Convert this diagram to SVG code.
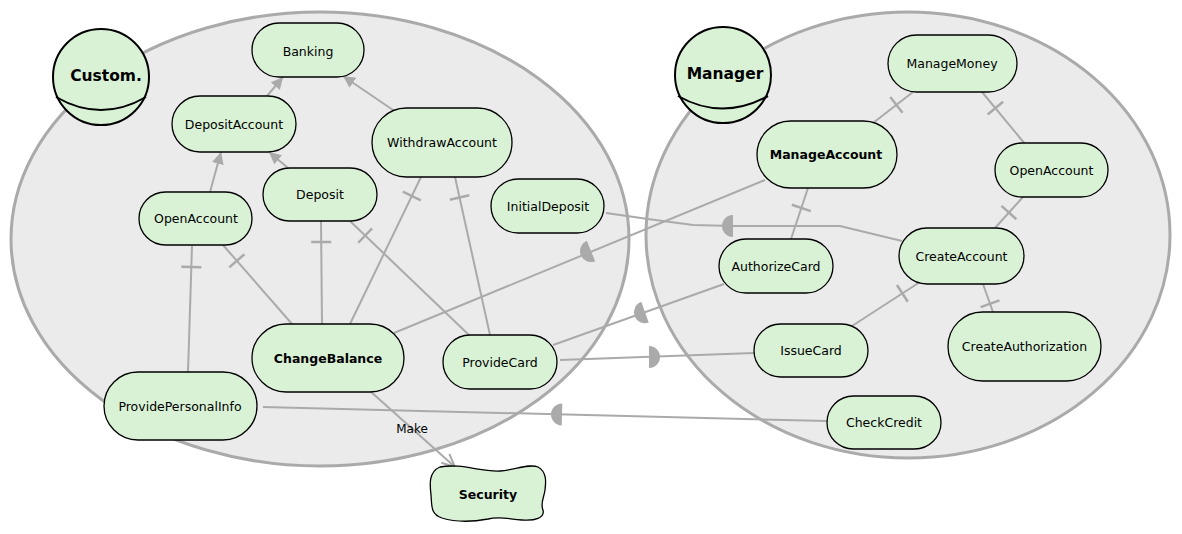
<svg xmlns="http://www.w3.org/2000/svg" width="1182" height="534" viewBox="0 0 1182 534">
<style>
.bound{fill:#ebebeb;stroke:#aaaaaa;stroke-width:3}
.node rect,.node path{fill:#d9f2d6;stroke:#000;stroke-width:1.3}
.actor circle,.actor path.body{fill:#d9f2d6;stroke:#000;stroke-width:2}
.actor path.arc{fill:none;stroke:#000;stroke-width:2}
text{font-family:"DejaVu Sans","Liberation Sans",sans-serif;fill:#000}
.lbl{font-size:12.5px;text-anchor:middle}
.b{font-weight:bold}
.al{font-size:15.5px;font-weight:bold;text-anchor:middle}
.conn{stroke:#aaaaaa;stroke-width:2;fill:none}
.gen{marker-end:url(#tri)}
.one{marker-start:url(#bar)}
.mk{marker-end:url(#open)}
.hd{fill:#aaaaaa}
.el{font-size:12px;text-anchor:middle}
</style>
<defs>
<marker id="tri" viewBox="0 0 12 12" refX="12" refY="6" markerWidth="12" markerHeight="12" markerUnits="userSpaceOnUse" orient="auto"><path d="M0,0 L12,6 L0,12 Z" fill="#aaaaaa"/></marker>
<marker id="bar" viewBox="-1 -12 24 24" refX="0" refY="0" markerWidth="24" markerHeight="24" markerUnits="userSpaceOnUse" orient="auto"><line x1="21" y1="-10" x2="21" y2="10" stroke="#aaaaaa" stroke-width="2.5"/></marker>
<marker id="open" viewBox="-15 -8 17 16" refX="0" refY="0" markerWidth="17" markerHeight="16" markerUnits="userSpaceOnUse" orient="auto"><path d="M-13,-6 L0,0 L-13,6" fill="none" stroke="#aaaaaa" stroke-width="2"/></marker>
<path id="half" d="M0,-11 A11,11 0 0,0 0,11 Z"/>
</defs>

<g id="boundaries">
<ellipse class="bound" cx="320" cy="239" rx="309" ry="227"/>
<ellipse class="bound" cx="908" cy="235" rx="262" ry="223"/>
</g>

<g id="connectors">
<line class="conn gen" x1="267" y1="96" x2="283" y2="77"/>
<line class="conn gen" x1="393" y1="110" x2="343" y2="76"/>
<line class="conn gen" x1="210" y1="192" x2="221" y2="152"/>
<line class="conn gen" x1="288" y1="168" x2="269" y2="152"/>

<line class="conn one" x1="192" y1="246" x2="188" y2="372"/>
<line class="conn one" x1="223" y1="245" x2="292" y2="324"/>
<line class="conn one" x1="321" y1="221" x2="322" y2="324"/>
<line class="conn one" x1="350" y1="221" x2="470" y2="336"/>
<line class="conn one" x1="421" y1="177" x2="350" y2="324"/>
<line class="conn one" x1="455" y1="177" x2="490" y2="335"/>
<line class="conn one" x1="913" y1="92" x2="873" y2="123"/>
<line class="conn one" x1="982" y1="92" x2="1025" y2="144"/>
<line class="conn one" x1="1023" y1="197" x2="995" y2="228"/>
<line class="conn one" x1="808" y1="188" x2="791" y2="239"/>
<line class="conn one" x1="920" y1="282" x2="852" y2="326"/>
<line class="conn one" x1="983" y1="284" x2="993" y2="312"/>

<line class="conn" x1="394" y1="333" x2="765" y2="180"/>
<use href="#half" class="hd" transform="translate(591,251) rotate(-22.4)"/>
<polyline class="conn" points="606,213 648,219 693,225 733,226 840,226 902,241"/>
<use href="#half" class="hd" transform="translate(733,226)"/>
<line class="conn" x1="553" y1="345" x2="724" y2="284"/>
<use href="#half" class="hd" transform="translate(645,312.2) rotate(-19.6)"/>
<line class="conn" x1="560" y1="360" x2="754" y2="353"/>
<use href="#half" class="hd" transform="translate(649,357) rotate(180)"/>
<line class="conn" x1="263" y1="407" x2="827" y2="421"/>
<use href="#half" class="hd" transform="translate(562,414.5) rotate(1.4)"/>

<line class="conn mk" x1="370" y1="391" x2="455" y2="467"/>
<text class="el" x="412" y="433">Make</text>
</g>

<g id="n-banking" class="node"><rect x="252" y="23" width="112" height="54" rx="27"/><text class="lbl" x="308" y="55.5">Banking</text></g>
<g id="n-depositaccount" class="node"><rect x="172" y="96" width="124" height="56" rx="28"/><text class="lbl" x="234" y="128.5">DepositAccount</text></g>
<g id="n-openaccount-c" class="node"><rect x="139" y="192" width="113" height="53" rx="26.5"/><text class="lbl" x="196" y="223">OpenAccount</text></g>
<g id="n-deposit" class="node"><rect x="263" y="168" width="114" height="53" rx="26.5"/><text class="lbl" x="320" y="199">Deposit</text></g>
<g id="n-withdrawaccount" class="node"><rect x="372" y="108" width="140" height="69" rx="34.5"/><text class="lbl" x="442" y="147">WithdrawAccount</text></g>
<g id="n-initialdeposit" class="node"><rect x="491" y="179" width="113" height="54" rx="27"/><text class="lbl" x="548" y="210.5">InitialDeposit</text></g>
<g id="n-providecard" class="node"><rect x="443" y="335" width="114" height="54" rx="27"/><text class="lbl" x="500" y="366.5">ProvideCard</text></g>
<g id="n-changebalance" class="node"><rect x="252" y="324" width="152" height="68" rx="34"/><text class="lbl b" x="328" y="362.5">ChangeBalance</text></g>
<g id="n-providepersonalinfo" class="node"><rect x="104" y="372" width="153" height="68" rx="34"/><text class="lbl" x="180" y="410.5">ProvidePersonalInfo</text></g>
<g id="n-security" class="node"><path d="M440,467 C462,463 480,472 500,471 C515,470 530,463 538,467 C547,472 546,482 545,490 C544,498 540,503 543,510 C545,518 535,521 522,520 C508,519 500,516 488,519 C472,522 455,522 442,518 C430,514 432,505 431,495 C430,486 428,472 440,467 Z"/><text class="lbl b" x="488" y="499">Security</text></g>

<g id="n-managemoney" class="node"><rect x="888" y="35" width="129" height="57" rx="28.5"/><text class="lbl" x="952" y="68">ManageMoney</text></g>
<g id="n-manageaccount" class="node"><rect x="757" y="121" width="140" height="67" rx="33.5"/><text class="lbl b" x="826" y="159">ManageAccount</text></g>
<g id="n-openaccount-m" class="node"><rect x="995" y="143" width="113" height="54" rx="27"/><text class="lbl" x="1051.5" y="174.5">OpenAccount</text></g>
<g id="n-authorizecard" class="node"><rect x="719" y="239" width="114" height="54" rx="27"/><text class="lbl" x="776" y="270.5">AuthorizeCard</text></g>
<g id="n-createaccount" class="node"><rect x="899" y="228" width="125" height="56" rx="28"/><text class="lbl" x="961.5" y="260.5">CreateAccount</text></g>
<g id="n-issuecard" class="node"><rect x="754" y="324" width="114" height="53" rx="26.5"/><text class="lbl" x="811" y="355">IssueCard</text></g>
<g id="n-createauthorization" class="node"><rect x="948" y="312" width="153" height="69" rx="34.5"/><text class="lbl" x="1024.5" y="351">CreateAuthorization</text></g>
<g id="n-checkcredit" class="node"><rect x="827" y="396" width="114" height="53" rx="26.5"/><text class="lbl" x="884" y="427">CheckCredit</text></g>

<g id="a-customer" class="actor"><circle cx="101" cy="77" r="48"/><path class="arc" d="M56,97 Q101,123 146,97"/><text class="al" x="106" y="81">Custom.</text></g>
<g id="a-manager" class="actor"><circle cx="723" cy="75" r="48"/><path class="arc" d="M678,96 Q722,121 768,96"/><text class="al" x="725" y="79">Manager</text></g>
</svg>
